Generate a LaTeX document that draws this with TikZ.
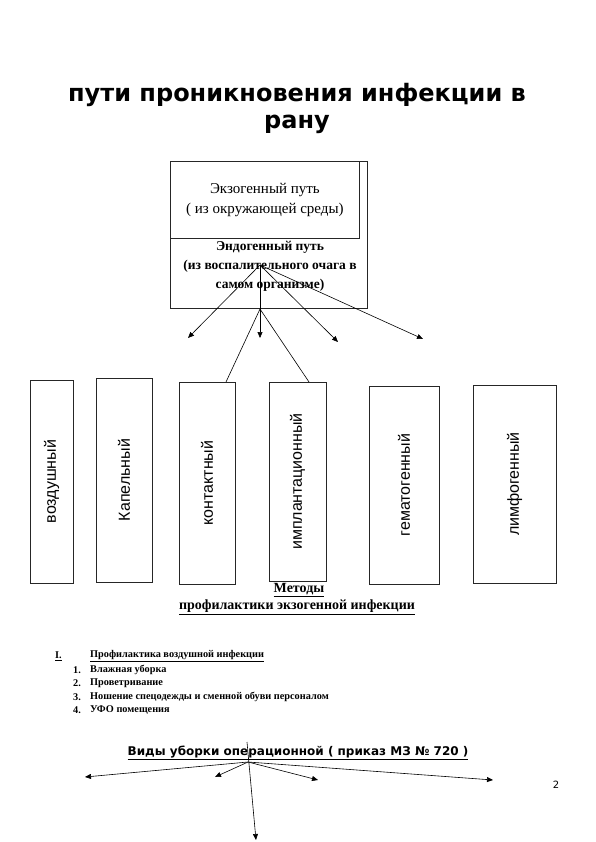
\documentclass[tikz,border=0pt]{standalone}
\usepackage{fontspec}
\setmainfont{Liberation Serif}
\newfontfamily\dejavu{DejaVu Sans}
\newfontfamily\arial{Liberation Sans}
\usetikzlibrary{arrows.meta}
\begin{document}
\begin{tikzpicture}[x=1pt,y=-1pt,
  box/.style={draw=black!85, line width=0.8pt, fill=white, inner sep=0pt},
  conn/.style={line width=0.6pt},
  arr/.style={conn, -{Triangle[length=6pt,width=5pt]}},
  vbox/.style={box, rotate=90, font=\arial\fontsize{16}{18}\selectfont},
  titlef/.style={font=\dejavu\bfseries\fontsize{24}{28}\selectfont},
  methf/.style={font=\bfseries\fontsize{14}{16}\selectfont},
  listf/.style={font=\bfseries\fontsize{10.3}{12}\selectfont, anchor=west, inner sep=0pt}]
\useasboundingbox (0,0) rectangle (595,842);
% title
\node[titlef] (t1) at (297,95) {пути проникновения инфекции в};
\node[titlef] (t2) at (297,124) {рану};
% top boxes
\node[box, minimum width=197pt, minimum height=147pt, anchor=north west] (endo) at (170,161) {};
\node[box, minimum width=189pt, minimum height=77pt, anchor=north west, align=center,
      font=\fontsize{15}{20}\selectfont] (exo) at (170,161) {Экзогенный путь\\( из окружающей среды)};
\node[align=center, font=\bfseries\fontsize{13.5}{19}\selectfont] (endotext) at (270,266)
  {Эндогенный путь\\(из воспалительного очага в\\самом организме)};
% hub arrows
\coordinate (hub) at (260,265);
\coordinate (hubb) at (260,309);
\coordinate (e1) at (188,338);
\coordinate (e2) at (260,338);
\coordinate (e3) at (338,342);
\coordinate (e4) at (423,339);
\draw[arr] (hub) -- (e1);
\draw[arr] (hub) -- (e2);
\draw[arr] (hub) -- (e3);
\draw[arr] (hub) -- (e4);
% six boxes
\node[vbox, minimum width=203pt, minimum height=43pt] (b1) at (51.5,481.5) {воздушный};
\node[vbox, minimum width=204pt, minimum height=56pt] (b2) at (124,480) {Капельный};
\node[vbox, minimum width=202pt, minimum height=56pt] (b3) at (207,483) {контактный};
\node[vbox, minimum width=199pt, minimum height=57pt] (b4) at (297.5,481.5) {имплантационный};
\node[vbox, minimum width=198pt, minimum height=70pt] (b5) at (404,485) {гематогенный};
\node[vbox, minimum width=198pt, minimum height=83pt] (b6) at (514.5,484) {лимфогенный};
\coordinate (c3) at (226,382);
\coordinate (c4) at (309,382);
\draw[conn] (hubb) -- (c3);
\draw[conn] (hubb) -- (c4);
% methods
\node[methf] (m1) at (299,590) {\underline{Методы}};
\node[methf] (m2) at (297,607) {\underline{профилактики экзогенной инфекции}};
% list
\node[listf] (l0n) at (55,656) {\underline{I.}};
\node[listf] (l0) at (90,656) {\underline{Профилактика воздушной инфекции}};
\node[listf] (l1n) at (73,670) {1.};
\node[listf] (l1) at (90,670) {Влажная уборка};
\node[listf] (l2n) at (73,683) {2.};
\node[listf] (l2) at (90,683) {Проветривание};
\node[listf] (l3n) at (73,697) {3.};
\node[listf] (l3) at (90,697) {Ношение спецодежды и сменной обуви персоналом};
\node[listf] (l4n) at (73,710) {4.};
\node[listf] (l4) at (90,710) {УФО помещения};
% kinds of cleaning
\node[font=\dejavu\bfseries\fontsize{12}{14}\selectfont] (vid) at (298,753) {\underline{Виды уборки операционной ( приказ МЗ № 720 )}};
\coordinate (vh) at (248,762);
\coordinate (vtop) at (247,742);
\coordinate (v1) at (85,777);
\coordinate (v2) at (215,777);
\coordinate (v3) at (318,780);
\coordinate (v4) at (493,780);
\coordinate (v5) at (256,840);
\draw[arr] (vh) -- (v1);
\draw[arr] (vh) -- (v2);
\draw[arr] (vh) -- (v3);
\draw[arr] (vh) -- (v4);
\draw[arr] (vtop) -- (v5);
% page number
\node[font=\dejavu\fontsize{10}{12}\selectfont] (pg) at (556,785) {2};
\end{tikzpicture}
\end{document}
